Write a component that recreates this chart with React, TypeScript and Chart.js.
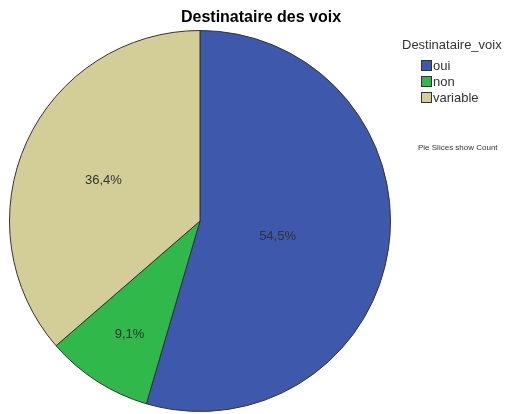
import React, { useEffect, useRef } from "react";
import { Chart, registerables } from "chart.js";

Chart.register(...registerables);

const categories = ["oui", "non", "variable"];
const counts = [6, 1, 4];
const percentLabels = ["54,5%", "9,1%", "36,4%"];
const colors = ["#3E58AC", "#30B84A", "#D3CE98"];
const chartTitle = "Destinataire des voix";
const legendTitle = "Destinataire_voix";
const note = "Pie Slices show Count";

const FONT = "'Liberation Sans', Arial, sans-serif";

const overlayPlugin = {
  id: "spssOverlay",
  afterDatasetsDraw(chart: any) {
    const ctx = chart.ctx;
    const meta = chart.getDatasetMeta(0);
    ctx.save();
    ctx.font = `13px ${FONT}`;
    ctx.fillStyle = "#333333";
    ctx.textAlign = "center";
    ctx.textBaseline = "middle";
    meta.data.forEach((arc: any, i: number) => {
      const { x, y, startAngle, endAngle, outerRadius } = arc.getProps(
        ["x", "y", "startAngle", "endAngle", "outerRadius"],
        true
      );
      const theta = endAngle - startAngle;
      const mid = (startAngle + endAngle) / 2;
      const d = (2 * outerRadius * Math.sin(theta / 2)) / (1.5 * theta) + 5;
      ctx.fillText(percentLabels[i], x + Math.cos(mid) * d, y + Math.sin(mid) * d + 4);
    });
    ctx.restore();
  },
  afterDraw(chart: any) {
    const ctx = chart.ctx;
    ctx.save();
    // title
    ctx.font = `bold 16px ${FONT}`;
    ctx.fillStyle = "#000000";
    ctx.textAlign = "center";
    ctx.textBaseline = "middle";
    ctx.fillText(chartTitle, 261, 18);
    // legend title
    ctx.font = `13px ${FONT}`;
    ctx.fillStyle = "#333333";
    ctx.textAlign = "left";
    ctx.fillText(legendTitle, 402, 45);
    // legend items
    categories.forEach((c, i) => {
      const cy = 65 + i * 16;
      ctx.fillStyle = colors[i];
      ctx.fillRect(421, cy - 5, 10, 10);
      ctx.strokeStyle = "#333333";
      ctx.lineWidth = 1;
      ctx.strokeRect(421.5, cy - 4.5, 10, 10);
      ctx.fillStyle = "#333333";
      ctx.fillText(c, 433, cy + 1);
    });
    // note
    ctx.font = `8px ${FONT}`;
    ctx.fillStyle = "#333333";
    ctx.fillText(note, 418, 148);
    ctx.restore();
  },
};

export default function App() {
  const ref = useRef<HTMLCanvasElement | null>(null);
  useEffect(() => {
    if (!ref.current) return;
    const chart = new Chart(ref.current, {
      type: "pie",
      data: {
        labels: categories,
        datasets: [
          {
            data: counts,
            backgroundColor: colors,
            borderColor: "#333333",
            borderWidth: 1,
          },
        ],
      },
      options: {
        responsive: false,
        animation: false,
        devicePixelRatio: 1,
        layout: { padding: { left: 9, right: 117, top: 30, bottom: 2 } },
        plugins: {
          legend: { display: false },
          title: { display: false },
          tooltip: { enabled: false },
        },
      },
      plugins: [overlayPlugin],
    });
    return () => chart.destroy();
  }, []);
  return (
    <div style={{ position: "fixed", left: 0, top: 0, width: 508, height: 414, background: "#fff" }}>
      <canvas ref={ref} width={508} height={414} />
    </div>
  );
}
